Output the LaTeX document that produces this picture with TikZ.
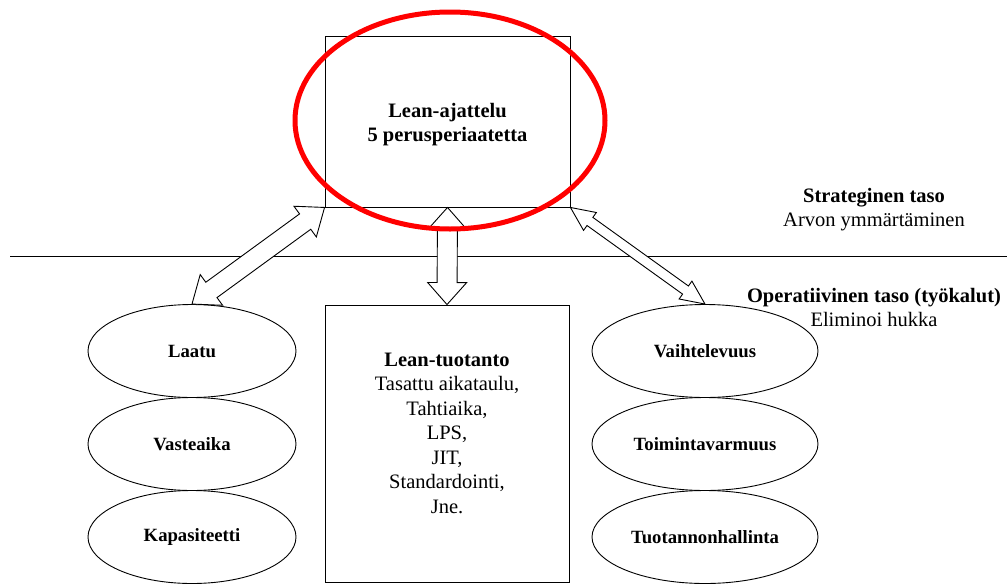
\documentclass[tikz,border=0pt]{standalone}
\usepackage{fontspec}
\setmainfont{Liberation Serif}
\usetikzlibrary{calc,shapes.geometric}

% Hollow double-headed arrow between two points.
% #1, #2: end points; #3: shaft half-width; #4: head half-width; #5: head length
\newcommand\fatarrow[5]{%
  \filldraw[arrowbody] (#1)
    -- ($(#1)!#5!(#2)!#4!90:(#2)$)
    -- ($(#1)!#5!(#2)!#3!90:(#2)$)
    -- ($(#2)!#5!(#1)!#3!-90:(#1)$)
    -- ($(#2)!#5!(#1)!#4!-90:(#1)$)
    -- (#2)
    -- ($(#2)!#5!(#1)!#4!90:(#1)$)
    -- ($(#2)!#5!(#1)!#3!90:(#1)$)
    -- ($(#1)!#5!(#2)!#3!-90:(#2)$)
    -- ($(#1)!#5!(#2)!#4!-90:(#2)$)
    -- cycle;}

\begin{document}
\begin{tikzpicture}[x=1pt,y=-1pt,
  line width=0.9pt,
  txt/.style={font=\fontsize{20.5}{24.5}\selectfont, align=center, inner sep=0pt},
  boxnode/.style={draw, rectangle, inner sep=0pt},
  ell/.style={draw, ellipse, minimum height=93pt, inner sep=0pt,
              font=\bfseries\fontsize{18.7}{22}\selectfont},
  leftell/.style={ell, minimum width=208pt},
  rightell/.style={ell, minimum width=226pt},
  arrowbody/.style={draw=black, fill=white, line join=miter},
  focus/.style={draw=red, line width=5pt}]
  \useasboundingbox (0,0) rectangle (1007,584);

  % level divider
  \coordinate (divL) at (10,256);
  \coordinate (divR) at (1007,256);
  \draw (divL) -- (divR);

  % strategic level
  \node[boxnode, minimum width=245pt, minimum height=171pt] (lean) at (447.5,121.5) {};
  \node[txt, font=\bfseries\fontsize{20.5}{24.5}\selectfont] (leantxt) at (447.5,124.5)
    {Lean-ajattelu\\5 perusperiaatetta};

  \node[txt] (strat) at (874,209.5) {\textbf{Strateginen taso}\\Arvon ymmärtäminen};
  \node[txt] (oper) at (874,307.5) {\textbf{Operatiivinen taso (työkalut)}\\Eliminoi hukka};

  % operational level
  \node[boxnode, minimum width=244pt, minimum height=277.5pt] (tuot) at (447,443.75) {};
  \node[txt] (tuottxt) at (447,433) {\textbf{Lean-tuotanto}\\Tasattu aikataulu,\\Tahtiaika,\\LPS,\\JIT,\\Standardointi,\\Jne.};

  \node[leftell] (laatu) at (192,351) {Laatu};
  \node[leftell] (vaste) at (192,444) {Vasteaika};
  \node[leftell] (kapa)  at (192,537) {Kapasiteetti};

  \node[rightell] (vaiht) at (705,351) {Vaihtelevuus};
  \node[rightell] (toim)  at (705,444) {Toimintavarmuus};
  \node[rightell] (tuoth) at (705,537) {Tuotannonhallinta};

  % links between the levels
  \fatarrow{lean.south west}{laatu.north}{9.5pt}{19pt}{24pt}
  \fatarrow{lean.south}{tuot.north}{10pt}{19.5pt}{22pt}
  \fatarrow{lean.south east}{vaiht.north}{5pt}{11pt}{24pt}

  % highlight ring
  \node[focus, ellipse, minimum width=310pt, minimum height=217pt, inner sep=0pt] (ring) at (450,120.5) {};
\end{tikzpicture}
\end{document}
